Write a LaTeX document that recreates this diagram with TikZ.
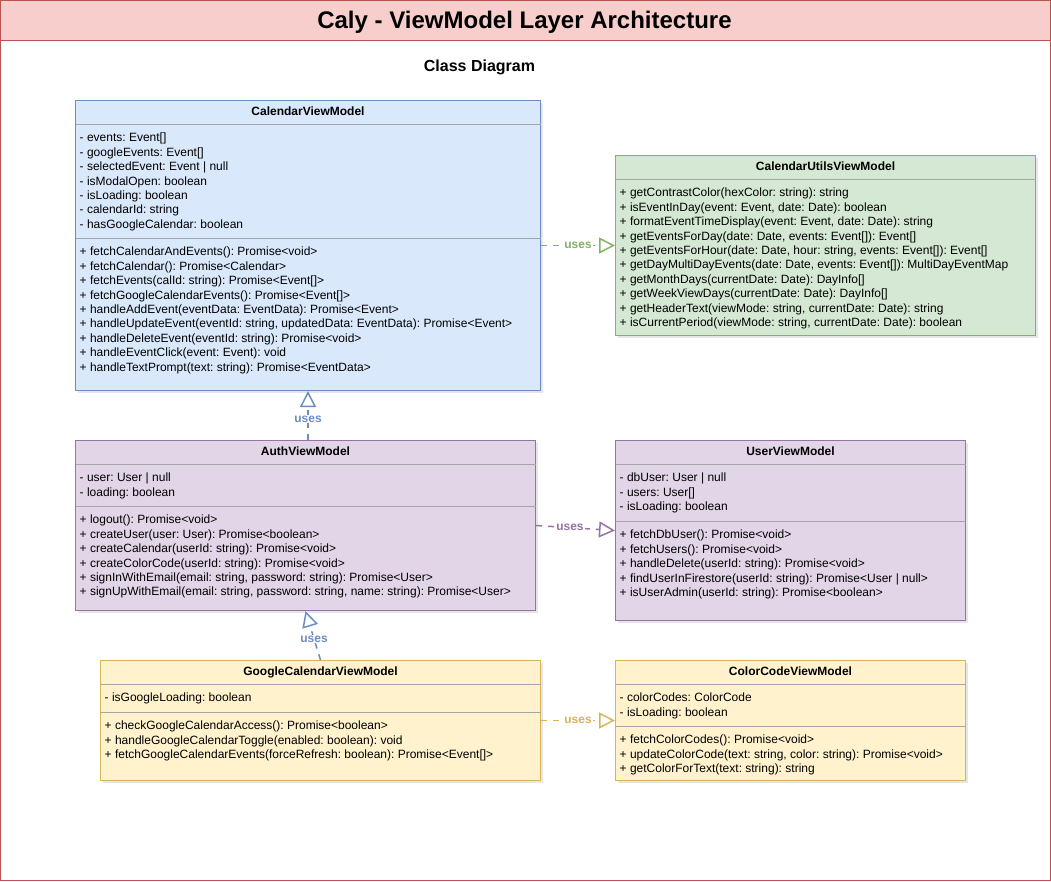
\documentclass[tikz,border=0pt]{standalone}
\usepackage{fontspec}
\setmainfont{Liberation Sans}
\usetikzlibrary{arrows.meta,shadows}
\frenchspacing

\definecolor{redfill}{HTML}{F8CECC}
\definecolor{redline}{HTML}{B85450}
\definecolor{bluefill}{HTML}{DAE8FC}
\definecolor{blueline}{HTML}{6C8EBF}
\definecolor{greenfill}{HTML}{D5E8D4}
\definecolor{greenline}{HTML}{82B366}
\definecolor{purplefill}{HTML}{E1D5E7}
\definecolor{purpleline}{HTML}{9673A6}
\definecolor{yellowfill}{HTML}{FFF2CC}
\definecolor{yellowline}{HTML}{D6B656}

\tikzset{
  classbox/.style={draw, line width=1pt, inner sep=0pt,
    drop shadow={opacity=0.2, shadow xshift=2pt, shadow yshift=-2pt}},
  classname/.style={anchor=base, inner sep=0pt, font=\fontsize{12}{14.4}\selectfont\bfseries},
  members/.style={anchor=north west, inner sep=0pt, align=left, font=\fontsize{12}{14.4}\selectfont},
  divider/.style={draw=black!35, line width=0.8pt},
  uses/.style={draw=#1, dash pattern=on 6pt off 6pt, line width=1.5pt,
    -{Triangle[open,length=16pt,width=16pt]}},
  useslabel/.style={fill=white, inner sep=1pt, font=\fontsize{12}{14}\selectfont\bfseries},
}

\begin{document}
\begin{tikzpicture}[x=1pt,y=-1pt]
  \useasboundingbox (0,0) rectangle (1051,881);

  \node[draw=redline, line width=1pt, minimum width=1050pt, minimum height=880pt, inner sep=0pt] (frame) at (525.5,440.5) {};
  \node[draw=redline, fill=redfill, line width=1pt, minimum width=1050pt, minimum height=40pt, inner sep=0pt] (titlebar) at (525.5,20.5) {};
  \node[anchor=base, inner sep=0pt, font=\fontsize{24}{28}\selectfont\bfseries] (title) at (524.5,28.5) {Caly - ViewModel Layer Architecture};
  \node[anchor=base, inner sep=0pt, font=\fontsize{16}{19}\selectfont\bfseries] (subtitle) at (479.5,71.5) {Class Diagram};

  \begin{scope}[every node/.style={classbox}]
    \node[fill=bluefill,   draw=blueline,   minimum width=465pt, minimum height=290pt] (cal)       at (308,245.5)   {};
    \node[fill=greenfill,  draw=greenline,  minimum width=420pt, minimum height=180pt] (utils)     at (825.5,245.5) {};
    \node[fill=purplefill, draw=purpleline, minimum width=460pt, minimum height=170pt] (auth)      at (305.5,525.5) {};
    \node[fill=purplefill, draw=purpleline, minimum width=350pt, minimum height=180pt] (user)      at (790.5,530.5) {};
    \node[fill=yellowfill, draw=yellowline, minimum width=440pt, minimum height=120pt] (gcal)      at (320.5,720.5) {};
    \node[fill=yellowfill, draw=yellowline, minimum width=350pt, minimum height=120pt] (colorcode) at (790.5,720.5) {};
  \end{scope}

  \draw[divider] (75.5,124.5)  -- (540.5,124.5);
  \draw[divider] (75.5,238.5)  -- (540.5,238.5);
  \draw[divider] (615.5,179.5) -- (1035.5,179.5);
  \draw[divider] (75.5,464.5)  -- (535.5,464.5);
  \draw[divider] (75.5,506.5)  -- (535.5,506.5);
  \draw[divider] (615.5,464.5) -- (965.5,464.5);
  \draw[divider] (615.5,521.5) -- (965.5,521.5);
  \draw[divider] (100.5,684.5) -- (540.5,684.5);
  \draw[divider] (100.5,712.5) -- (540.5,712.5);
  \draw[divider] (615.5,684.5) -- (965.5,684.5);
  \draw[divider] (615.5,726.5) -- (965.5,726.5);

  \node[classname] (calname)   at (308,115.5)   {CalendarViewModel};
  \node[classname] (utilsname) at (825.5,170.5) {CalendarUtilsViewModel};
  \node[classname] (authname)  at (305.5,455.5) {AuthViewModel};
  \node[classname] (username)  at (790.5,455.5) {UserViewModel};
  \node[classname] (gcalname)  at (320.5,675.5) {GoogleCalendarViewModel};
  \node[classname] (colorname) at (790.5,675.5) {ColorCodeViewModel};

  \node[members] (calattr) at (79.5,133) {- events: Event[]\\- googleEvents: Event[]\\- selectedEvent: Event | null\\- isModalOpen: boolean\\- isLoading: boolean\\- calendarId: string\\- hasGoogleCalendar: boolean};
  \node[members] (calops) at (79.5,247) {+ fetchCalendarAndEvents(): Promise<void>\\+ fetchCalendar(): Promise<Calendar>\\+ fetchEvents(calId: string): Promise<Event[]>\\+ fetchGoogleCalendarEvents(): Promise<Event[]>\\+ handleAddEvent(eventData: EventData): Promise<Event>\\+ handleUpdateEvent(eventId: string, updatedData: EventData): Promise<Event>\\+ handleDeleteEvent(eventId: string): Promise<void>\\+ handleEventClick(event: Event): void\\+ handleTextPrompt(text: string): Promise<EventData>};
  \node[members] (utilsops) at (619.5,188) {+ getContrastColor(hexColor: string): string\\+ isEventInDay(event: Event, date: Date): boolean\\+ formatEventTimeDisplay(event: Event, date: Date): string\\+ getEventsForDay(date: Date, events: Event[]): Event[]\\+ getEventsForHour(date: Date, hour: string, events: Event[]): Event[]\\+ getDayMultiDayEvents(date: Date, events: Event[]): MultiDayEventMap\\+ getMonthDays(currentDate: Date): DayInfo[]\\+ getWeekViewDays(currentDate: Date): DayInfo[]\\+ getHeaderText(viewMode: string, currentDate: Date): string\\+ isCurrentPeriod(viewMode: string, currentDate: Date): boolean};
  \node[members] (authattr) at (79.5,473) {- user: User | null\\- loading: boolean};
  \node[members] (authops) at (79.5,515) {+ logout(): Promise<void>\\+ createUser(user: User): Promise<boolean>\\+ createCalendar(userId: string): Promise<void>\\+ createColorCode(userId: string): Promise<void>\\+ signInWithEmail(email: string, password: string): Promise<User>\\+ signUpWithEmail(email: string, password: string, name: string): Promise<User>};
  \node[members] (userattr) at (619.5,473) {- dbUser: User | null\\- users: User[]\\- isLoading: boolean};
  \node[members] (userops) at (619.5,530) {+ fetchDbUser(): Promise<void>\\+ fetchUsers(): Promise<void>\\+ handleDelete(userId: string): Promise<void>\\+ findUserInFirestore(userId: string): Promise<User | null>\\+ isUserAdmin(userId: string): Promise<boolean>};
  \node[members] (gcalattr) at (104.5,693) {- isGoogleLoading: boolean};
  \node[members] (gcalops) at (104.5,721) {+ checkGoogleCalendarAccess(): Promise<boolean>\\+ handleGoogleCalendarToggle(enabled: boolean): void\\+ fetchGoogleCalendarEvents(forceRefresh: boolean): Promise<Event[]>};
  \node[members] (colorattr) at (619.5,693) {- colorCodes: ColorCode\\- isLoading: boolean};
  \node[members] (colorops) at (619.5,735) {+ fetchColorCodes(): Promise<void>\\+ updateColorCode(text: string, color: string): Promise<void>\\+ getColorForText(text: string): string};

  \begin{scope}[every node/.style={useslabel}]
    \path (cal.east) edge[uses=greenline] node[text=greenline] {uses} (utils.west);
    \path (cal.south |- auth.north) edge[uses=blueline] node[pos=.43, text=blueline] {uses} (cal.south);
    \path (auth.east) edge[uses=purpleline] node[pos=.43, text=purpleline] {uses} (user.west);
    \path (gcal.north) edge[uses=blueline] node[pos=.43, text=blueline] {uses} (auth.south);
    \path (gcal.east) edge[uses=yellowline] node[text=yellowline] {uses} (colorcode.west);
  \end{scope}

\end{tikzpicture}
\end{document}
